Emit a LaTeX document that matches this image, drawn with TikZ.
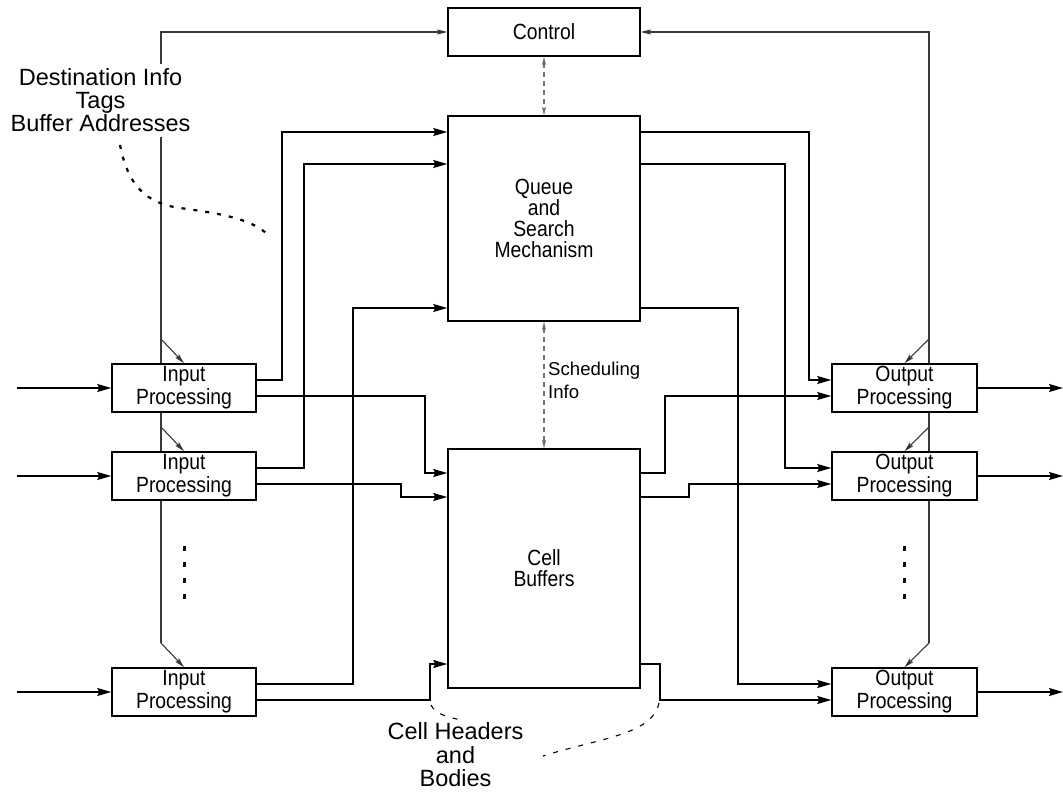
\documentclass[tikz,border=0pt]{standalone}
\usepackage{fontspec}
\setmainfont{Liberation Sans}
\newfontfamily\narrowf[FakeStretch=0.88]{Liberation Sans}
\usetikzlibrary{arrows.meta,backgrounds}
\begin{document}
\begin{tikzpicture}[x=1pt,y=-1pt,
  box/.style={draw,line width=1.5pt,fill=white,inner sep=0pt,align=center,
    font=\narrowf\fontsize{22}{23}\selectfont},
  bigbox/.style={box,font=\narrowf\fontsize{22}{21}\selectfont,minimum width=192pt},
  iobox/.style={box,minimum height=48pt},
  data/.style={line width=1.5pt,-{Stealth[length=14pt,width=8pt,inset=2pt]}},
  ctl/.style={line width=1.1pt,black!78,-{Stealth[length=10pt,width=5pt,inset=1.5pt]}},
  sched/.style={line width=1.2pt,black!55,dash pattern=on 5pt off 4pt,
    {Stealth[length=8pt,width=4pt,inset=1pt]}-{Stealth[length=8pt,width=4pt,inset=1pt]}},
  note/.style={line width=1.1pt,dash pattern=on 5pt off 8pt},
  lbl/.style={inner sep=0pt,align=center,font=\fontsize{23.5}{23}\selectfont},
  dotbar/.style={fill=black}
]
\useasboundingbox (0,0) rectangle (1063,792);

% main blocks
\node[bigbox,minimum height=48pt] (ctrl) at (544,32) {Control};
\node[bigbox,minimum height=205pt] (queue) at (544,218.5) {Queue\\and\\Search\\Mechanism};
\node[bigbox,minimum height=239pt] (cell) at (544,568.5) {Cell\\Buffers};

% input / output blocks
\node[iobox,minimum width=144pt] (in1) at (184,388) {Input\\Processing};
\node[iobox,minimum width=144pt] (in2) at (184,476) {Input\\Processing};
\node[iobox,minimum width=144pt] (in3) at (184,692) {Input\\Processing};
\node[iobox,minimum width=145pt] (out1) at (904.5,388) {Output\\Processing};
\node[iobox,minimum width=145pt] (out2) at (904.5,476) {Output\\Processing};
\node[iobox,minimum width=145pt] (out3) at (904.5,692) {Output\\Processing};

% labels
\node[lbl,fill=white,inner ysep=5pt,inner xsep=1pt] (dest) at (100.5,100.5)
  {Destination Info\\Tags\\Buffer Addresses};
\node[inner sep=0pt,anchor=north west,align=left,font=\fontsize{18.6}{23}\selectfont]
  (schedl) at (548,361.5) {Scheduling\\Info};
\node[lbl,font=\fontsize{23.5}{23.5}\selectfont] (chb) at (455.5,755) {Cell Headers\\and\\Bodies};

% helper coordinates
\coordinate (src1) at (17,388);
\coordinate (src2) at (17,476);
\coordinate (src3) at (17,692);
\coordinate (dst1) at (1063,388);
\coordinate (dst2) at (1063,476);
\coordinate (dst3) at (1063,692);
\coordinate (lt1) at (161,339);
\coordinate (lt2) at (161,427);
\coordinate (lt3) at (161,643);
\coordinate (rt1) at (929,339);
\coordinate (rt2) at (929,427);
\coordinate (rt3) at (929,643);

% control network (behind boxes)
\begin{pgfonlayer}{background}
  \draw[ctl] (lt3) |- (ctrl.west);
  \draw[ctl] (rt3) |- (ctrl.east);
\end{pgfonlayer}
\draw[ctl] (lt1) -- (in1.north);
\draw[ctl] (lt2) -- (in2.north);
\draw[ctl] (lt3) -- (in3.north);
\draw[ctl] (rt1) -- (out1.north);
\draw[ctl] (rt2) -- (out2.north);
\draw[ctl] (rt3) -- (out3.north);

% dashed info links
\draw[sched] (ctrl.south) -- (queue.north);
\draw[sched] (queue.south) -- (cell.north);

% line inputs and outputs
\draw[data] (src1) -- (in1.west);
\draw[data] (src2) -- (in2.west);
\draw[data] (src3) -- (in3.west);
\draw[data] (out1.east) -- (dst1);
\draw[data] (out2.east) -- (dst2);
\draw[data] (out3.east) -- (dst3);

% input processing -> queue / cell buffers
\draw[data] ([yshift=8pt]in1.east) -- ++(25,0) |- ([yshift=86.5pt]queue.west);
\draw[data] ([yshift=8pt]in2.east) -- ++(47,0) |- ([yshift=54.5pt]queue.west);
\draw[data] ([yshift=8pt]in3.east) -- ++(96,0) |- ([yshift=-89.5pt]queue.west);
\draw[data] ([yshift=-8pt]in1.east) -- ++(168,0) |- ([yshift=95.5pt]cell.west);
\draw[data] ([yshift=-8pt]in2.east) -- ++(144,0) |- ([yshift=71.5pt]cell.west);
\draw[data] ([yshift=-8pt]in3.east) -- ++(173,0) |- ([yshift=-95.5pt]cell.west);

% queue / cell buffers -> output processing
\draw[data] ([yshift=86.5pt]queue.east) -- ++(168,0) |- ([yshift=8pt]out1.west);
\draw[data] ([yshift=54.5pt]queue.east) -- ++(144,0) |- ([yshift=8pt]out2.west);
\draw[data] ([yshift=-89.5pt]queue.east) -- ++(97,0) |- ([yshift=8pt]out3.west);
\draw[data] ([yshift=95.5pt]cell.east) -- ++(24,0) |- ([yshift=-8pt]out1.west);
\draw[data] ([yshift=71.5pt]cell.east) -- ++(48,0) |- ([yshift=-8pt]out2.west);
\draw[data] ([yshift=-95.5pt]cell.east) -- ++(19,0) |- ([yshift=-8pt]out3.west);

% annotation curves
\coordinate (da) at (120,145);
\coordinate (db) at (270,237);
\draw[line width=2.2pt,dash pattern=on 4pt off 8pt] (da) .. controls (128,185) and (145,203) .. (180,208)
  .. controls (225,214) and (255,220) .. (db);
\coordinate (ca) at (431,705);
\coordinate (cb) at (462,720);
\coordinate (cc) at (659,703);
\coordinate (cd) at (543,756);
\draw[note] (ca) .. controls (435,713) and (445,717) .. (cb);
\draw[note] (cc) .. controls (652,735) and (600,738) .. (cd);

% ellipsis dots
\foreach \yy in {548,564,580,596}{
  \fill[dotbar] (182.5,\yy-2.5) rectangle ++(3,5);
  \fill[dotbar] (902.5,\yy-2.5) rectangle ++(3,5);
}
\end{tikzpicture}
\end{document}
